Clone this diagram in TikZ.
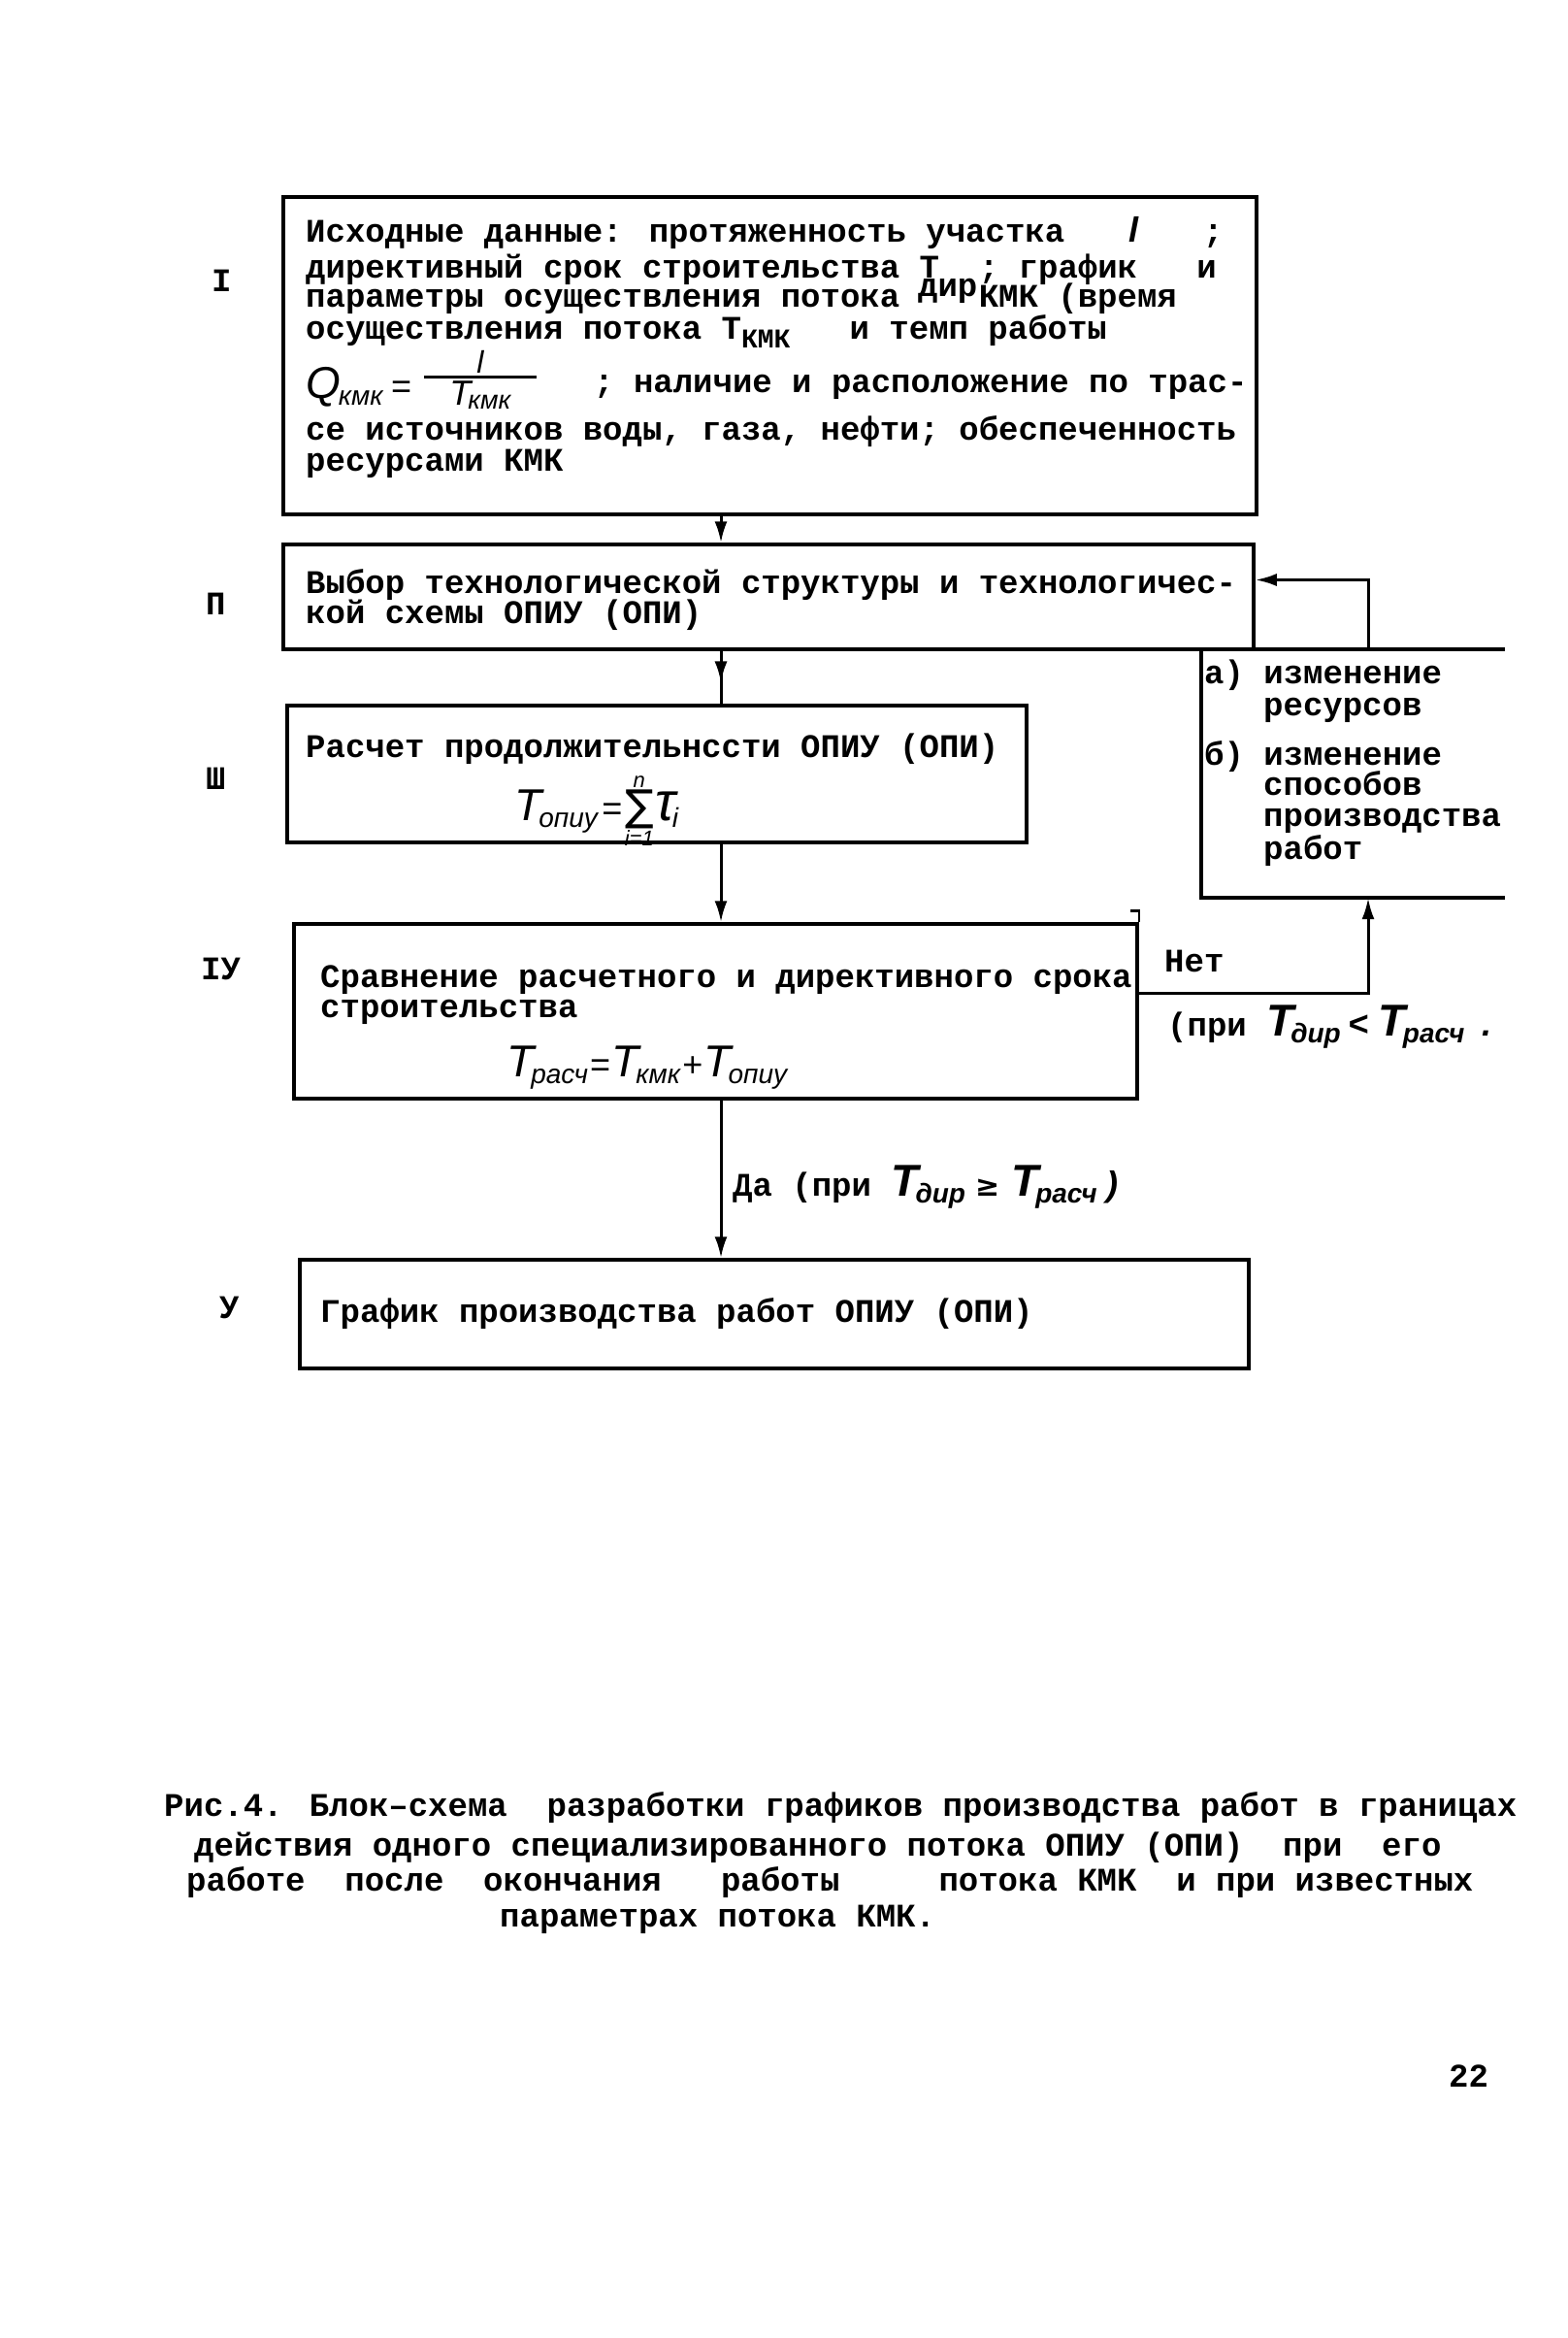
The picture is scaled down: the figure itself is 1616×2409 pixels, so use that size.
\documentclass[tikz,border=0pt]{standalone}
\usepackage{fontspec}
\newfontfamily\tw{Liberation Mono}
\newfontfamily\hw{Liberation Sans}
\newfontfamily\sy{DejaVu Sans}
\usetikzlibrary{arrows.meta,decorations.markings}

\newcommand\hwf{\hw\itshape\fontsize{46}{46}\selectfont}
\newcommand\hwm{\hw\itshape\fontsize{36}{36}\selectfont}
\newcommand\hws{\hw\itshape\fontsize{28}{28}\selectfont}
\newcommand\hwt{\hw\itshape\fontsize{22}{22}\selectfont}
\newcommand\hsub[1]{\raisebox{-7pt}{\hws #1}}
\newcommand\HT[1]{{\hwf T}\kern-3pt\hsub{#1}}

\begin{document}
\begin{tikzpicture}[x=1pt,y=-1pt,
  box/.style={draw, line width=3.5pt, inner sep=0pt},
  boxline/.style={line width=3.5pt},
  conn/.style={line width=3pt},
  arr/.style={conn, -{Latex[length=22pt,width=13pt]}},
  midarr/.style={postaction={decorate}, decoration={markings,
     mark=at position 0.6 with {\arrow{Latex[length=22pt,width=13pt]}}}},
  txt/.style={anchor=base west, inner sep=0pt, font=\tw\bfseries\fontsize{34}{34}\selectfont},
  hand/.style={anchor=base west, inner sep=0pt}]
\useasboundingbox (0,0) rectangle (1616,2409);
\fill[white] (0,0) rectangle (1616,2409);

% boxes
\node[box, minimum width=1003pt, minimum height=327pt] (b1) at (793.5,366.5) {};
\node[box, minimum width=1000pt, minimum height=108pt] (b2) at (792,615) {};
\node[box, minimum width=762pt, minimum height=141pt] (b3) at (677,797.5) {};
\node[box, minimum width=869pt, minimum height=180pt] (b4) at (737.5,1042) {};
\node[box, minimum width=978pt, minimum height=112pt] (b5) at (798,1354) {};
\node[minimum width=313pt, minimum height=256pt, inner sep=0pt] (bR) at (1394.5,797) {};
\draw[boxline] (bR.north east) -- (bR.north west) -- (bR.south west) -- (bR.south east);
\draw[conn, line width=2.5pt] (b4.north east) -- ++(0,-12) -- ++(-9,0);

% connectors
\coordinate (ax) at (743,0);
\draw[arr] (b1.south -| ax) -- (b2.north -| ax);
\draw[conn, midarr] (b2.south -| ax) -- (b3.north -| ax);
\draw[arr] (b3.south -| ax) -- (b4.north -| ax);
\draw[arr] (b4.south -| ax) -- (b5.north -| ax);
\draw[arr] ([yshift=19pt]b4.east) -| ([xshift=15.5pt]bR.south);
\draw[arr] ([xshift=15.5pt]bR.north) |- ([yshift=17.5pt]b2.east);

% row numerals
\node[txt] (r1) at (218,300) {I};
\node[txt] (r2) at (212,633) {П};
\node[txt] (r3) at (212,813) {Ш};
\node[txt] (r4) at (207,1009) {IУ};
\node[txt] (r5) at (226,1358) {У};

% box I text
\node[txt] (t1a) at (315,249) {Исходные данные: протяженность участка~~~\makebox[20.4pt]{\hwm l}~~~;};
\node[txt] (t1b) at (315,286) {директивный срок строительства Т\smash{\raisebox{-0.58em}{\makebox[0pt][l]{\hspace{-22pt}дир}}}~~;~график~~~и};
\node[txt] (t1c) at (315,316) {параметры осуществления потока~~~~КМК (время};
\node[txt] (t1d) at (315,349) {осуществления потока Т\raisebox{-9pt}{\fontsize{28}{28}\selectfont КМК}~~~и темп работы};
\node[hand] (t1e) at (315,410) {{\hwf Q}\kern-2pt\hsub{кмк}\hspace{8pt}{\hwm =}\hspace{12pt}\raisebox{19pt}{${\hbox to 116pt{\hfil\hw\itshape\fontsize{32}{32}\selectfont l\hfil}\above 3pt\hbox to 116pt{\hfil\hw\itshape\fontsize{36}{36}\selectfont T\kern-3pt\raisebox{-4pt}{\hw\itshape\fontsize{27}{27}\selectfont кмк}\hfil}}$}};
\node[txt] (t1f) at (612,404) {; наличие и расположение по трас-};
\node[txt] (t1g) at (315,453) {се источников воды, газа, нефти; обеспеченность};
\node[txt] (t1h) at (315,485) {ресурсами КМК};

% box II text
\node[txt] (t2a) at (315,611) {Выбор технологической структуры и технологичес-};
\node[txt] (t2b) at (315,642) {кой схемы ОПИУ (ОПИ)};

% box III text
\node[txt] (t3a) at (315,780) {Расчет продолжительнссти ОПИУ (ОПИ)};
\node[hand] (t3b) at (530,845) {\HT{опиу}\hspace{4pt}{\hwm =}\hspace{3pt}$\mathop{\hbox{\sy\fontsize{44}{44}\selectfont ∑}}\limits_{\hbox{\hwt i=1}}^{\hbox{\hwt n}}$\hspace{2pt}{\hw\itshape\fontsize{56}{56}\selectfont τ}\kern-4pt\hsub{i}};

% box IV text
\node[txt] (t4a) at (330,1017) {Сравнение расчетного и директивного срока};
\node[txt] (t4b) at (330,1048) {строительства};
\node[hand] (t4c) at (522,1109) {\HT{расч}\,{\hwm =}\,\HT{кмк}\,{\hwm +}\,\HT{опиу}};

% box V text
\node[txt] (t5a) at (330,1362) {График производства работ ОПИУ (ОПИ)};

% right box text
\node[txt] (tRa) at (1241,704) {а)~изменение};
\node[txt] (tRb) at (1302,737) {ресурсов};
\node[txt] (tRc) at (1241,788) {б)~изменение};
\node[txt] (tRd) at (1302,819) {способов};
\node[txt] (tRe) at (1302,851) {производства};
\node[txt] (tRf) at (1302,885) {работ};

% connector labels
\node[txt] (lnet) at (1200,1001) {Нет};
\node[txt] (lpri) at (1203,1067) {(при \HT{дир}\hspace{8pt}{\hwm <}\hspace{10pt}\HT{расч}\hspace{18pt}{\hwm .}};
\node[txt] (lda) at (755,1232) {Да (при \HT{дир}\hspace{10pt}{\sy\fontsize{30}{30}\selectfont ≥}\hspace{12pt}\HT{расч}\hspace{10pt}{\hwm )}};

% caption
\node[txt] (c1) at (169,1871) {Рис.4. Блок–схема~~разработки графиков производства работ в границах};
\node[txt] (c2) at (200,1912) {действия одного специализированного потока ОПИУ (ОПИ)~~при~~его};
\node[txt] (c3) at (192,1948) {работе~~после~~окончания~~~работы~~~~~потока КМК~~и при известных};
\node[txt] (c4) at (515,1985) {параметрах потока КМК.};

% page number
\node[txt] (pg) at (1493,2150) {22};
\end{tikzpicture}
\end{document}
